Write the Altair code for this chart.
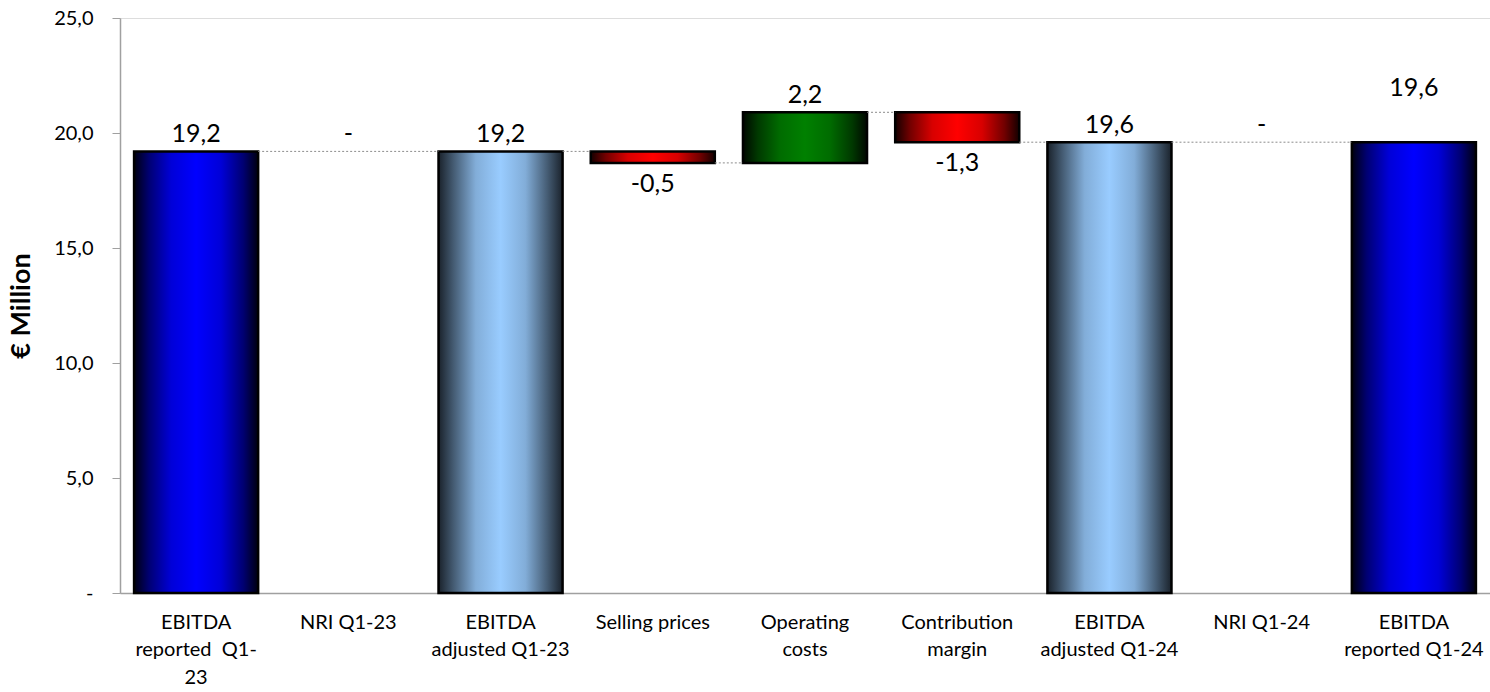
import altair as alt
import pandas as pd

# Bridge items, left to right ("|" marks a line break in the axis label)
categories = [
    "EBITDA|reported \u00a0Q1-|23",
    "NRI Q1-23",
    "EBITDA|adjusted Q1-23",
    "Selling prices",
    "Operating|costs",
    "Contribution|margin",
    "EBITDA|adjusted Q1-24",
    "NRI Q1-24",
    "EBITDA|reported Q1-24",
]
values = [19.2, 0.0, 19.2, -0.5, 2.2, -1.3, 19.6, 0.0, 19.6]
kinds = ["total", "delta", "total", "delta", "delta", "delta", "total", "delta", "total"]
styles = ["reported", "nri", "adjusted", "down", "up", "down", "adjusted", "nri", "reported"]

# Running totals for the waterfall
rows = []
running = 0.0
for cat, v, k, s in zip(categories, values, kinds, styles):
    if k == "total":
        start, end = 0.0, v
    else:
        start, end = running, running + v
    running = end
    label = "-" if v == 0 else f"{v:.1f}".replace(".", ",")
    rows.append(dict(cat=cat, value=v, start=round(start, 2), end=round(end, 2),
                     style=s, label=label, order=len(rows)))
df = pd.DataFrame(rows)
df["last"] = df["order"] == len(df) - 1

# Dotted connectors from each bar's end level to the next drawn bar
links = []
drawn = [i for i, r in enumerate(rows) if r["value"] != 0]
for a, b in zip(drawn[:-1], drawn[1:]):
    links.append(dict(src=rows[a]["cat"], dst=rows[b]["cat"], level=rows[a]["end"]))
links_df = pd.DataFrame(links)

FONT = "Lato"


def shade(hex_color, k):
    r, g, b = (int(hex_color[i:i + 2], 16) for i in (1, 3, 5))
    return "#{:02x}{:02x}{:02x}".format(int(r * k), int(g * k), int(b * k))


def cylinder(center, edge_k):
    # dark edges, broad bright middle: a rounded "tube" look
    offsets = [0.0, 0.12, 0.3, 0.5, 0.7, 0.88, 1.0]
    ks = [edge_k, 0.45, 0.85, 1.0, 0.85, 0.45, edge_k]
    return alt.LinearGradient(
        gradient="linear", x1=0, x2=1, y1=0, y2=0,
        stops=[alt.GradientStop(color=shade(center, k), offset=o)
               for o, k in zip(offsets, ks)],
    )


fills = {
    "reported": cylinder("#0000FF", 0.06),
    "adjusted": cylinder("#99CCFF", 0.17),
    "up": cylinder("#008000", 0.06),
    "down": cylinder("#FF0000", 0.08),
}

x_scale = alt.Scale(domain=categories, paddingInner=0.185, paddingOuter=0.0925)
y_scale = alt.Scale(domain=[0, 25], nice=False, zero=True)

x_axis = alt.Axis(
    title=None, labelAngle=0, labelAlign="center", bandPosition=0.5,
    labelExpr="split(datum.label, '|')",
    labelFontSize=20, labelLineHeight=27.5, labelPadding=19, labelLimit=0,
    labelColor="#000000", labelFont=FONT, labelOverlap=False,
    ticks=False, tickSize=0,
    domainColor="#a0a0a0", domainWidth=1.5,
)
y_axis = alt.Axis(
    title="€ Million", titleFont=FONT, titleFontSize=27, titleFontWeight="bold",
    titleColor="#000000", titlePadding=18,
    values=[0, 5, 10, 15, 20, 25], grid=False,
    labelExpr="datum.value == 0 ? '-' : replace(format(datum.value, '.1f'), '.', ',')",
    labelFontSize=20, labelFont=FONT, labelColor="#000000", labelPadding=19,
    tickSize=8, tickColor="#a0a0a0", domainColor="#a0a0a0", domainWidth=1.5,
)

X = alt.X("cat:N", scale=x_scale, axis=x_axis, sort=categories)
Y_END = alt.Y("end:Q", scale=y_scale, axis=y_axis)

base = alt.Chart(df)

bar_layers = []
for key, fill in fills.items():
    bar_layers.append(
        base.transform_filter(alt.datum.style == key)
        .mark_bar(fill=fill, stroke="#000000", strokeWidth=2.5)
        .encode(
            x=X,
            y=alt.Y("start:Q", scale=y_scale, axis=y_axis),
            y2="end:Q",
        )
    )

connectors = alt.Chart(links_df).mark_rule(
    color="#8c8c8c", strokeWidth=1, strokeDash=[2, 2]
).encode(
    x=alt.X("src:N", scale=x_scale, axis=x_axis, bandPosition=1, sort=categories),
    x2=alt.X2("dst:N", bandPosition=0),
    y=alt.Y("level:Q", scale=y_scale, axis=y_axis),
)

up_labels = base.transform_filter(
    "datum.value >= 0 && !datum.last"
).mark_text(baseline="alphabetic", dy=-9, fontSize=25, font=FONT, color="#000000").encode(
    x=X, y=Y_END, text="label:N",
)

down_labels = base.transform_filter("datum.value < 0").mark_text(
    baseline="top", dy=9, fontSize=25, font=FONT, color="#000000"
).encode(
    x=X, y=Y_END, text="label:N",
)

final_label = base.transform_filter("datum.last").mark_text(
    baseline="alphabetic", dy=-46, fontSize=25, font=FONT, color="#000000"
).encode(
    x=X, y=Y_END, text="label:N",
)

chart = alt.layer(
    *bar_layers, connectors, up_labels, down_labels, final_label
).properties(
    width=1370, height=575,
    autosize=alt.AutoSizeParams(type="none"),
    padding={"left": 120, "top": 18, "right": 0, "bottom": 99},
    background="#ffffff",
).configure_view(stroke=None).configure(font=FONT)

chart.save("out.html", embed_options={"renderer": "svg", "actions": False})
